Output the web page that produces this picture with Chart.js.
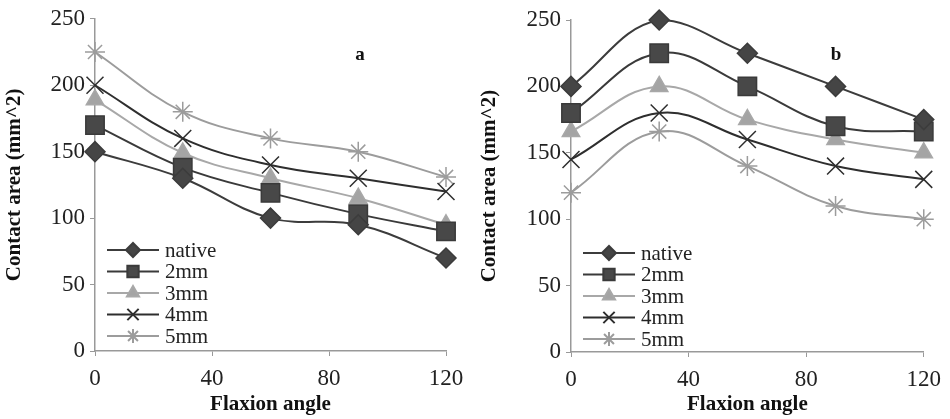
<!DOCTYPE html>
<html>
<head>
<meta charset="utf-8">
<script src="https://cdn.jsdelivr.net/npm/chart.js@4"></script>
<style>
  body { margin: 0; background: #fff; }
  .wrap { position: absolute; top: 0; width: 475px; height: 419px; }
</style>
</head>
<body>
<div class="wrap" style="left:0"><canvas id="chartA"></canvas></div>
<div class="wrap" style="left:475px"><canvas id="chartB"></canvas></div>
<script>
// flexion angles (deg)
const angles = [0, 30, 60, 90, 120];
const seriesNames = ['native', '2mm', '3mm', '4mm', '5mm'];

// panel a
const aNative = [150, 130, 100, 95, 70];
const a2mm = [170, 138, 119, 103, 90];
const a3mm = [189, 149, 130, 115, 95];
const a4mm = [200, 160, 140, 130, 120];
const a5mm = [225, 180, 160, 150, 131];

// panel b
const bNative = [200, 250, 225, 200, 175];
const b2mm = [180, 225, 200, 170, 166];
const b3mm = [166, 200, 175, 160, 150];
const b4mm = [145, 180, 160, 140, 130];
const b5mm = [120, 166, 140, 110, 100];

const styles = [
    { color: '#3c3c3c', fill: '#454545', pointStyle: 'rectRot', radius: 10, legendRadius: 7 },
    { color: '#3a3a3a', fill: '#484848', pointStyle: 'rect', radius: 13, legendRadius: 8 },
    { color: '#a8a8a8', fill: '#a4a4a4', pointStyle: 'triangle', radius: 10, legendRadius: 7 },
    { color: '#2e2e2e', fill: '#2e2e2e', pointStyle: 'crossRot', radius: 12, legendRadius: 8 },
    { color: '#9c9c9c', fill: '#9c9c9c', pointStyle: 'star', radius: 10, legendRadius: 7 },
];

const serif = '"Liberation Serif", "DejaVu Serif", serif';

function makeDatasets(values) {
    return values.map((vals, i) => ({
        label: seriesNames[i],
        data: angles.map((a, j) => ({ x: a, y: vals[j] })),
        borderColor: styles[i].color,
        backgroundColor: styles[i].fill,
        pointBackgroundColor: styles[i].fill,
        pointBorderColor: styles[i].color,
        pointStyle: styles[i].pointStyle,
        pointRadius: styles[i].radius,
        pointBorderWidth: 1.5,
        borderWidth: 2,
        tension: 0.4,
        clip: false,
    }));
}

// legend drawn inside the plot, lower left
const insideLegend = {
    id: 'insideLegend',
    afterDatasetsDraw(chart, args, opts) {
        const ctx = chart.ctx;
        const x0 = chart.chartArea.left + opts.dx;
        ctx.save();
        chart.data.datasets.forEach((ds, i) => {
            const y = opts.top + i * opts.rowH;
            ctx.strokeStyle = ds.borderColor;
            ctx.lineWidth = 2;
            ctx.beginPath();
            ctx.moveTo(x0, y);
            ctx.lineTo(x0 + 52, y);
            ctx.stroke();
            ctx.fillStyle = ds.pointBackgroundColor;
            ctx.strokeStyle = ds.pointBorderColor;
            Chart.helpers.drawPoint(ctx, {
                pointStyle: ds.pointStyle,
                radius: styles[i].legendRadius,
                borderWidth: 2,
                rotation: 0
            }, x0 + 26, y);
            ctx.fillStyle = '#222';
            ctx.font = '21px ' + serif;
            ctx.textBaseline = 'middle';
            ctx.fillText(ds.label, x0 + 58, y + 1);
        });
        ctx.restore();
    }
};

// panel letter
const panelLabel = {
    id: 'panelLabel',
    afterDraw(chart, args, opts) {
        const ctx = chart.ctx;
        ctx.save();
        ctx.fillStyle = '#111';
        ctx.font = 'bold 19px ' + serif;
        ctx.textAlign = 'center';
        ctx.textBaseline = 'middle';
        ctx.fillText(opts.text, opts.x, opts.y);
        ctx.restore();
    }
};

function makeChart(id, values, cfg) {
    return new Chart(document.getElementById(id), {
        type: 'line',
        data: { datasets: makeDatasets(values) },
        plugins: [insideLegend, panelLabel],
        options: {
            responsive: true,
            maintainAspectRatio: false,
            animation: false,
            layout: { padding: { top: cfg.top, right: cfg.right, left: 0, bottom: 0 } },
            plugins: {
                legend: { display: false },
                tooltip: { enabled: false },
                insideLegend: { dx: 12, top: cfg.legendTop, rowH: 21.5 },
                panelLabel: { text: cfg.letter, x: cfg.letterX, y: 55 },
            },
            scales: {
                x: {
                    type: 'linear',
                    min: 0,
                    max: 120,
                    ticks: { stepSize: 40, color: '#222', padding: 9, font: { family: serif, size: 23 } },
                    grid: { drawOnChartArea: false, tickLength: 5, color: '#999' },
                    border: { color: '#999', width: 1.5 },
                    title: { display: true, text: 'Flaxion angle', color: '#111', padding: { top: 0, bottom: 2 }, font: { family: serif, size: 21, weight: 'bold' } },
                    afterFit: (s) => { s.height = cfg.xH; },
                },
                y: {
                    min: 0,
                    max: 250,
                    ticks: { stepSize: 50, color: '#222', padding: 5, font: { family: serif, size: 23 } },
                    grid: { drawOnChartArea: false, tickLength: 5, color: '#999' },
                    border: { color: '#999', width: 1.5 },
                    title: { display: true, text: 'Contact area (mm^2)', color: '#111', padding: { top: 2, bottom: 0 }, font: { family: serif, size: 21, weight: 'bold' } },
                    afterFit: (s) => { s.width = cfg.yW; },
                },
            },
        },
    });
}

makeChart('chartA', [aNative, a2mm, a3mm, a4mm, a5mm],
    { top: 16, right: 29, xH: 68, yW: 95, legendTop: 250, letter: 'a', letterX: 360 });
makeChart('chartB', [bNative, b2mm, b3mm, b4mm, b5mm],
    { top: 20, right: 24, xH: 67, yW: 96, legendTop: 253, letter: 'b', letterX: 361 });
</script>
</body>
</html>
